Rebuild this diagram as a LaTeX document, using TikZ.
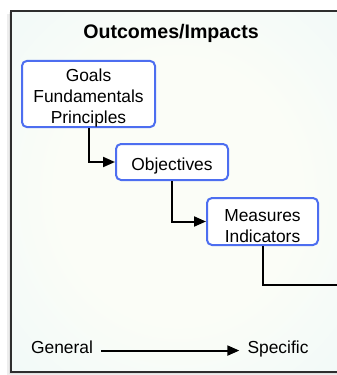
\documentclass[tikz,border=0pt]{standalone}
\usepackage{fontspec}
\setmainfont{Liberation Sans}
\usetikzlibrary{arrows.meta,shadows}
\definecolor{boxblue}{HTML}{4D6EF0}
\definecolor{bgouter}{HTML}{DAF2FC}
\definecolor{bgmid}{HTML}{EEF8F9}
\definecolor{bginner}{HTML}{FBFDF7}
\definecolor{framegray}{HTML}{2E2E2E}
\pgfdeclareradialshading{panelshade}{\pgfpoint{0bp}{0bp}}{%
  color(0bp)=(bginner); color(18bp)=(bginner); color(42bp)=(bgmid); color(72bp)=(bgouter)}
\newcommand{\topstrut}{\rule{0pt}{21pt}}
\tikzset{
  stepbox/.style={draw=boxblue, line width=2pt, rounded corners=5pt, fill=white,
    align=center, inner sep=0pt, font=\fontsize{17.4}{20.8}\selectfont},
  link/.style={line width=2pt, -{Triangle[length=12pt,width=10pt]}},
  plainlink/.style={line width=2pt},
  lbl/.style={font=\fontsize{17.4}{20.8}\selectfont, inner sep=0pt, anchor=base}
}
\begin{document}
\begin{tikzpicture}[x=1pt,y=-1pt]
\useasboundingbox (0,0) rectangle (337,375);
\fill[white] (0,0) rectangle (337,375);
\fill[black,opacity=0.07] (7,14) rectangle (345,375);
\fill[black,opacity=0.06] (9,12) rectangle (345,374);
\shade[shading=panelshade] (11,11) rectangle (345,372);
\draw[framegray, line width=1.4pt] (11,11) rectangle (345,372);
\node[font=\bfseries\fontsize{19.6}{23}\selectfont, inner sep=0pt, anchor=base] (title) at (171,38.8) {Outcomes/Impacts};
\node[stepbox, minimum width=133pt, minimum height=66pt] (b1) at (88.5,94) {\topstrut Goals\\Fundamentals\\Principles};
\node[stepbox, minimum width=112pt, minimum height=36pt] (b2) at (172,162) {\topstrut Objectives};
\node[stepbox, minimum width=111pt, minimum height=47pt] (b3) at (262.5,221.5) {\topstrut Measures\\Indicators};
\coordinate (e) at (345,285);
\draw[link] (b1.south) |- (b2.west);
\draw[link] (b2.south) |- (b3.west);
\draw[plainlink] (b3.south) |- (e);
\node[lbl] (gen) at (62,353.2) {General};
\node[lbl] (spec) at (278,353.2) {Specific};
\draw[link, shorten <=8pt, shorten >=8pt] (gen.mid east) -- (spec.mid west);
\end{tikzpicture}
\end{document}
